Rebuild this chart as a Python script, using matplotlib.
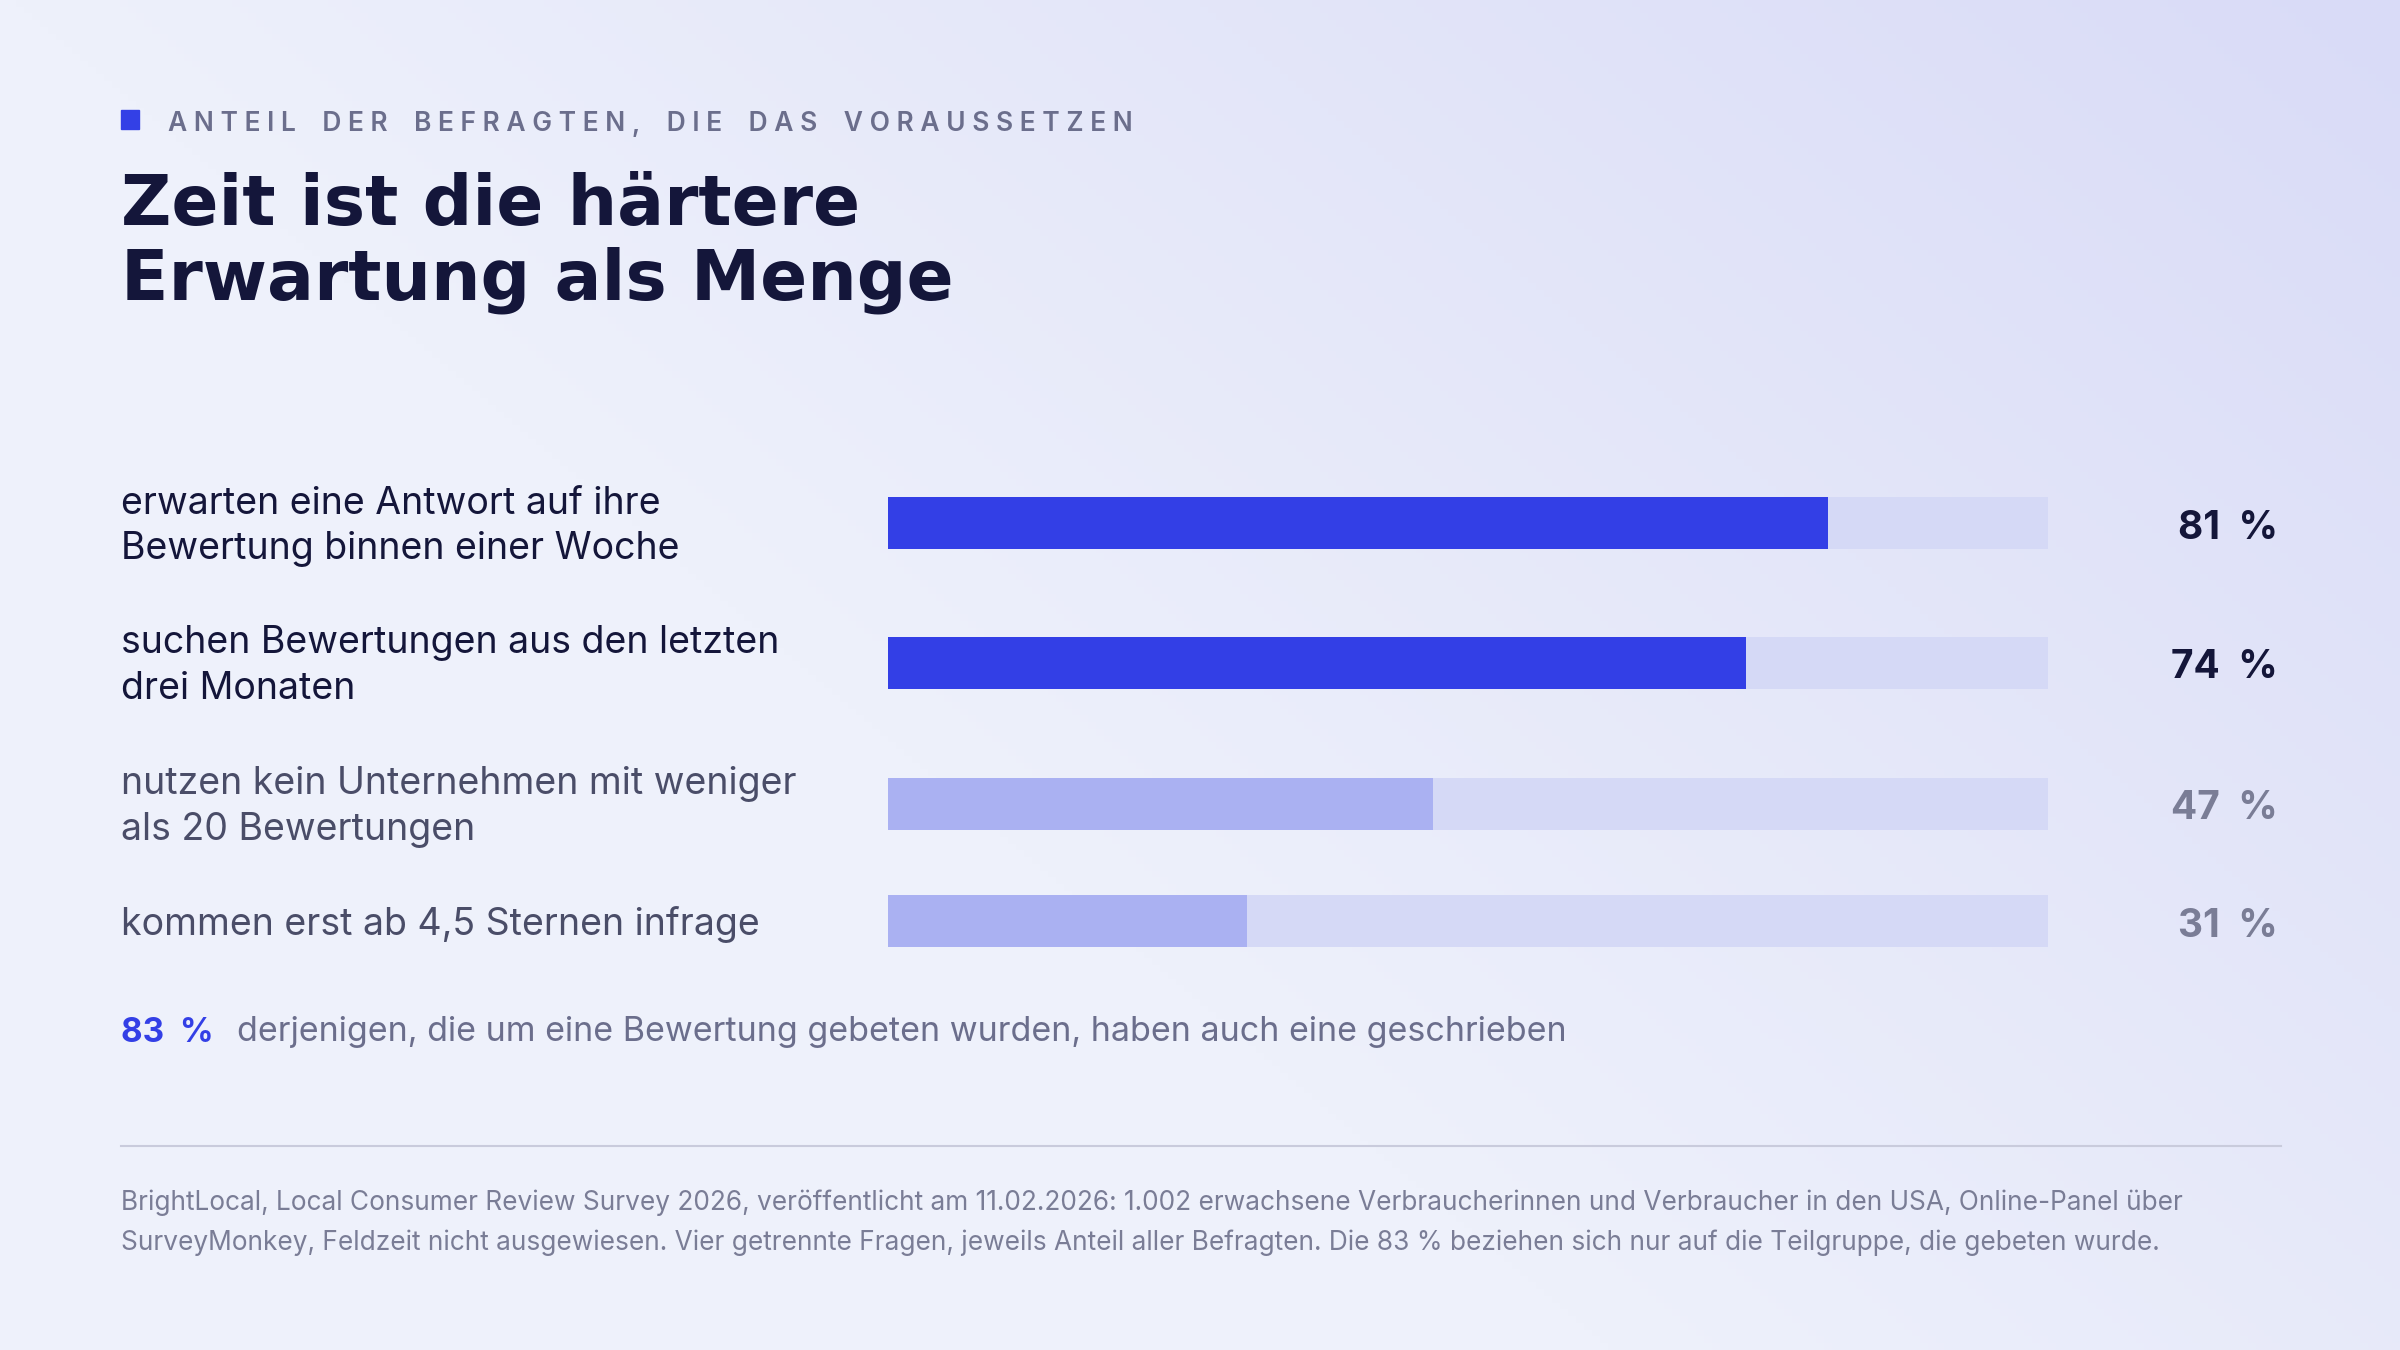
import numpy as np
import matplotlib
matplotlib.use("Agg")
import matplotlib.pyplot as plt
from matplotlib.colors import LinearSegmentedColormap

categories = ["erwarten eine Antwort auf ihre\nBewertung binnen einer Woche",
              "suchen Bewertungen aus den letzten\ndrei Monaten",
              "nutzen kein Unternehmen mit weniger\nals 20 Bewertungen",
              "kommen erst ab 4,5 Sternen infrage"]
values = [81, 74, 47, 31]
highlight = [True, True, False, False]
value_labels = ["81 %", "74 %", "47 %", "31 %"]

plt.rcParams['font.family'] = ['Inter', 'DejaVu Sans']
W, H = 1568, 882
fig = plt.figure(figsize=(24, 13.5), dpi=100)

bg = fig.add_axes([0, 0, 1, 1], zorder=-10)
xx, yy = np.meshgrid(np.linspace(0, 1, 300), np.linspace(0, 1, 200))
g = np.clip((xx * 0.9 + (1 - yy) * 0.6) - 0.6, 0, 1) / 0.9
cmap = LinearSegmentedColormap.from_list("bg", ["#eef1fb", "#d9dbf7"])
bg.imshow(g, cmap=cmap, aspect='auto', extent=[0, 1, 0, 1], origin='upper')
bg.axis('off')

def fx(px): return px / W
def fy(py): return 1 - py / H

fig.patches.append(plt.Rectangle((fx(79), fy(84)), fx(12), 12 / H, transform=fig.transFigure,
                                 color="#3340e6", zorder=5))
sub = "ANTEIL DER BEFRAGTEN, DIE DAS VORAUSSETZEN"
fig.text(fx(110), fy(81), " ".join(list(sub)).replace("   ", "    "), fontsize=19,
         color="#6b6e8c", va='center', ha='left', fontweight='semibold')
fig.text(fx(79), fy(134), "Zeit ist die härtere", fontsize=50, fontweight='bold',
         color="#14163a", va='center', ha='left', family=['DejaVu Sans'])
fig.text(fx(79), fy(183), "Erwartung als Menge", fontsize=50, fontweight='bold',
         color="#14163a", va='center', ha='left', family=['DejaVu Sans'])

ypos = [342, 433, 525, 602]
ax = fig.add_axes([fx(580), 0, fx(1338) - fx(580), 1])
ax.set_xlim(0, 100)
ax.set_ylim(H, 0)
ax.axis('off')
ax.barh(ypos, [100] * 4, height=34, color="#d5d9f6")
ax.barh(ypos, values, height=34,
        color=["#333fe6" if h else "#aab1f2" for h in highlight])

for y, cat, lab, h in zip(ypos, categories, value_labels, highlight):
    col = "#14163a" if h else "#4a4d68"
    fig.text(fx(79), fy(y + 2), cat, fontsize=27, color=col, va='center', ha='left', linespacing=1.35)
    fig.text(fx(1488), fy(y + 3), lab.replace(" ", "  "), fontsize=28, fontweight='bold',
             color="#14163a" if h else "#7a7d96", va='center', ha='right')

fig.text(fx(79), fy(675), "83  %", fontsize=24, fontweight='bold', color="#333fe6", va='center')
fig.text(fx(155), fy(674), "derjenigen, die um eine Bewertung gebeten wurden, haben auch eine geschrieben",
         fontsize=24.5, color="#6b6e8c", va='center')

fig.add_artist(plt.Line2D([fx(79), fx(1490)], [fy(749), fy(749)], transform=fig.transFigure,
                          color="#c9cbdc", lw=1.5))
fig.text(fx(79), fy(786), "BrightLocal, Local Consumer Review Survey 2026, veröffentlicht am 11.02.2026: 1.002 erwachsene Verbraucherinnen und Verbraucher in den USA, Online-Panel über",
         fontsize=18.9, color="#7a7d96", va='center')
fig.text(fx(79), fy(812), "SurveyMonkey, Feldzeit nicht ausgewiesen. Vier getrennte Fragen, jeweils Anteil aller Befragten. Die 83 % beziehen sich nur auf die Teilgruppe, die gebeten wurde.",
         fontsize=18.9, color="#7a7d96", va='center')

fig.savefig("out.png", dpi=100)
